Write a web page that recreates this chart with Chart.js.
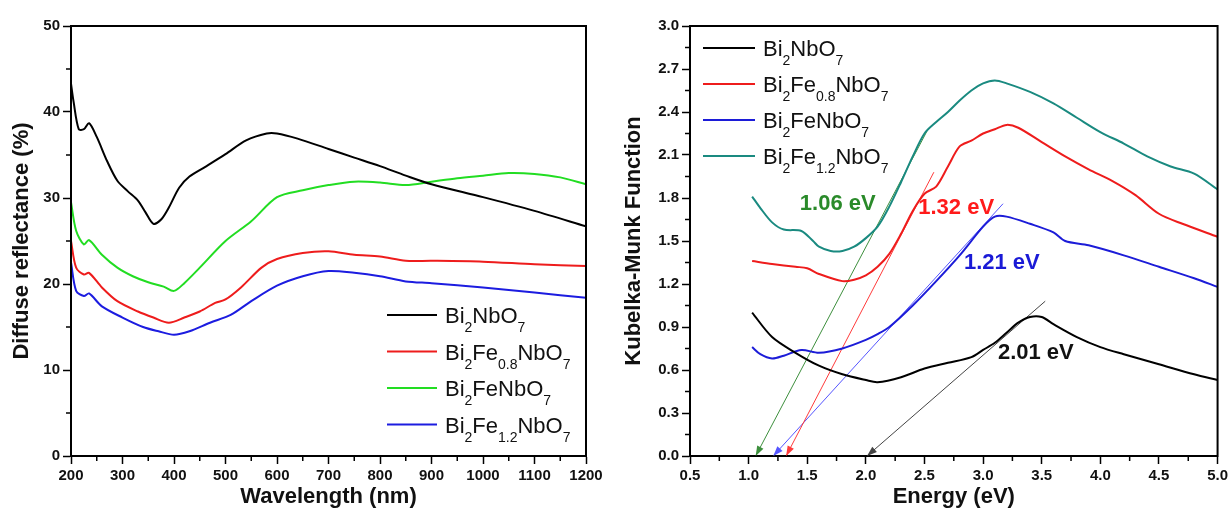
<!DOCTYPE html>
<html>
<head>
<meta charset="utf-8">
<script src="https://cdn.jsdelivr.net/npm/chart.js@4.4.1/dist/chart.umd.min.js"></script>
<style>
  body { margin: 0; background: #fff; width: 1231px; height: 512px; overflow: hidden; position: relative; }
  .panel { position: absolute; top: 0; }
</style>
</head>
<body>
<div class="panel" style="left:0"><canvas id="reflChart" width="615" height="512"></canvas></div>
<div class="panel" style="left:615px"><canvas id="kmChart" width="616" height="512"></canvas></div>
<script>
// ---- left panel: diffuse reflectance vs wavelength ----
const reflNames = ['Bi2NbO7', 'Bi2Fe0.8NbO7', 'Bi2FeNbO7', 'Bi2Fe1.2NbO7'];
const reflColors = ['#000000', '#ee1c1c', '#22dd22', '#1c1ce0'];

const wlBNO = [200, 205, 215, 225, 235, 250, 270, 290, 310, 330, 345, 360, 375, 390, 410, 430, 460, 500, 540, 580, 600, 640, 700, 750, 800, 850, 900, 1000, 1100, 1200];
const refBNO = [43.3, 41.2, 38.0, 38.0, 38.7, 37.1, 34.3, 32.0, 30.8, 29.7, 28.3, 27.0, 27.5, 28.9, 31.2, 32.5, 33.6, 35.1, 36.7, 37.5, 37.5, 36.9, 35.7, 34.7, 33.7, 32.6, 31.6, 30.1, 28.5, 26.7];

const wlFe08 = [200, 210, 225, 235, 260, 290, 330, 360, 390, 420, 450, 480, 500, 530, 570, 600, 650, 700, 750, 800, 850, 900, 1000, 1100, 1200];
const refFe08 = [25.0, 21.9, 21.1, 21.3, 19.6, 18.0, 16.8, 16.1, 15.5, 16.1, 16.8, 17.8, 18.2, 19.6, 21.9, 22.9, 23.6, 23.8, 23.4, 23.2, 22.7, 22.7, 22.6, 22.3, 22.1];

const wlFe10 = [200, 210, 225, 235, 260, 290, 320, 350, 380, 400, 420, 450, 500, 550, 600, 650, 700, 750, 800, 850, 900, 950, 1000, 1050, 1100, 1150, 1200];
const refFe10 = [29.5, 26.2, 24.6, 25.1, 23.4, 21.9, 20.9, 20.2, 19.7, 19.2, 20.1, 21.9, 25.0, 27.3, 30.1, 30.9, 31.5, 31.9, 31.8, 31.5, 31.9, 32.3, 32.6, 32.9, 32.8, 32.4, 31.6];

const wlFe12 = [200, 210, 225, 235, 260, 300, 340, 370, 400, 430, 470, 510, 550, 600, 650, 700, 750, 800, 850, 900, 1000, 1100, 1200];
const refFe12 = [22.5, 19.2, 18.6, 18.9, 17.4, 16.1, 15.0, 14.5, 14.1, 14.5, 15.5, 16.4, 18.0, 19.8, 20.9, 21.5, 21.3, 20.9, 20.3, 20.1, 19.6, 19.0, 18.4];

// ---- right panel: Kubelka-Munk function vs energy ----
const kmNames = ['Bi2NbO7', 'Bi2Fe0.8NbO7', 'Bi2FeNbO7', 'Bi2Fe1.2NbO7'];
const kmColors = ['#000000', '#ee1c1c', '#1c1cd8', '#1a8a80'];

const eBNO = [1.03, 1.2, 1.4, 1.6, 1.8, 2.0, 2.1, 2.3, 2.5, 2.7, 2.9, 3.0, 3.1, 3.2, 3.3, 3.4, 3.5, 3.6, 3.8, 4.0, 4.2, 4.5, 4.8, 5.0];
const kmBNO = [1.00, 0.83, 0.72, 0.63, 0.57, 0.53, 0.515, 0.55, 0.61, 0.65, 0.69, 0.74, 0.79, 0.86, 0.93, 0.97, 0.97, 0.92, 0.83, 0.76, 0.71, 0.64, 0.57, 0.53];

const eFe08 = [1.03, 1.2, 1.4, 1.5, 1.6, 1.8, 1.9, 2.0, 2.1, 2.2, 2.3, 2.4, 2.5, 2.6, 2.7, 2.8, 2.9, 3.0, 3.1, 3.2, 3.3, 3.5, 3.7, 3.9, 4.1, 4.3, 4.5, 4.7, 5.0];
const kmFe08 = [1.36, 1.34, 1.32, 1.31, 1.27, 1.22, 1.23, 1.26, 1.32, 1.41, 1.55, 1.71, 1.83, 1.88, 2.02, 2.16, 2.20, 2.25, 2.28, 2.31, 2.29, 2.19, 2.09, 2.00, 1.92, 1.82, 1.69, 1.62, 1.53];

const eFe10 = [1.03, 1.1, 1.2, 1.3, 1.45, 1.6, 1.8, 2.0, 2.1, 2.2, 2.4, 2.6, 2.8, 3.0, 3.1, 3.2, 3.4, 3.6, 3.7, 3.9, 4.2, 4.5, 4.8, 5.0];
const kmFe10 = [0.76, 0.71, 0.68, 0.70, 0.74, 0.72, 0.75, 0.81, 0.85, 0.90, 1.05, 1.22, 1.40, 1.60, 1.67, 1.67, 1.62, 1.56, 1.50, 1.47, 1.40, 1.32, 1.24, 1.18];

const eFe12 = [1.03, 1.1, 1.2, 1.3, 1.45, 1.55, 1.6, 1.7, 1.8, 1.9, 2.0, 2.1, 2.2, 2.3, 2.4, 2.5, 2.6, 2.7, 2.8, 2.9, 3.0, 3.1, 3.2, 3.4, 3.6, 3.8, 4.0, 4.2, 4.4, 4.6, 4.8, 5.0];
const kmFe12 = [1.81, 1.73, 1.63, 1.58, 1.57, 1.50, 1.46, 1.43, 1.43, 1.46, 1.52, 1.60, 1.74, 1.91, 2.09, 2.25, 2.33, 2.40, 2.48, 2.55, 2.60, 2.62, 2.60, 2.54, 2.46, 2.36, 2.26, 2.18, 2.09, 2.02, 1.97, 1.86];

// band-gap tangents: from a point on the edge down to the energy axis
const tangentTopE = [2.53, 2.58, 3.17, 3.53];
const tangentTopK = [2.28, 1.98, 1.76, 1.08];
const tangentEg = [1.06, 1.32, 1.21, 2.01];
const tangentColors = ['#3d8f3d', '#ff3b3b', '#5555ff', '#444444'];
const gapLabels = ['1.06 eV', '1.32 eV', '1.21 eV', '2.01 eV'];
const gapLabelE = [1.76, 2.77, 3.16, 3.45];
const gapLabelK = [1.76, 1.73, 1.35, 0.72];
const gapLabelColors = ['#2a8a2a', '#ff1a1a', '#1a1ad6', '#111111'];

const FONT = "'Liberation Sans', Arial, sans-serif";
Chart.defaults.font.family = FONT;
Chart.defaults.color = '#111';

const toXY = (xs, ys) => xs.map((x, i) => ({ x, y: ys[i] }));

// formula with numeric subscripts, e.g. Bi2Fe0.8NbO7
function drawFormula(ctx, text, x, y) {
  const parts = text.split(/(\d+(?:\.\d+)?)/);
  let cx = x;
  parts.forEach((p, i) => {
    if (!p) return;
    if (i % 2 === 1) {
      ctx.font = '14px ' + FONT;
      ctx.fillText(p, cx, y + 17);
    } else {
      ctx.font = '22px ' + FONT;
      ctx.fillText(p, cx, y + 8);
    }
    cx += ctx.measureText(p).width;
  });
}

const decorPlugin = {
  id: 'decor',
  afterDraw(chart, args, opts) {
    const { ctx, chartArea: a, scales } = chart;
    ctx.save();
    // closed frame
    ctx.strokeStyle = '#000';
    ctx.lineWidth = 2;
    ctx.strokeRect(a.left, a.top, a.right - a.left, a.bottom - a.top);
    // minor ticks
    ctx.lineWidth = 1.5;
    ctx.beginPath();
    const xs = scales.x, ys = scales.y;
    for (let v = xs.min + opts.xMinor; v < xs.max; v += 2 * opts.xMinor) {
      const px = xs.getPixelForValue(v);
      ctx.moveTo(px, a.bottom); ctx.lineTo(px, a.bottom + 5);
    }
    for (let v = ys.min + opts.yMinor; v < ys.max; v += 2 * opts.yMinor) {
      const py = ys.getPixelForValue(v);
      ctx.moveTo(a.left - 5, py); ctx.lineTo(a.left, py);
    }
    ctx.stroke();

    // legend
    const lg = opts.legend;
    lg.names.forEach((name, i) => {
      const y = lg.y + i * lg.dy;
      ctx.strokeStyle = lg.colors[i];
      ctx.lineWidth = 2;
      ctx.beginPath();
      ctx.moveTo(lg.x, y); ctx.lineTo(lg.x + lg.len, y);
      ctx.stroke();
      ctx.fillStyle = '#111';
      ctx.textBaseline = 'alphabetic';
      ctx.textAlign = 'left';
      drawFormula(ctx, name, lg.x + lg.len + 8, y);
    });

    // arrowheads and band-gap labels
    if (opts.gaps) {
      chart.data.datasets.forEach((ds, di) => {
        if (!ds.arrow) return;
        const pts = chart.getDatasetMeta(di).data;
        const p0 = pts[0], p1 = pts[1];
        const ang = Math.atan2(p1.y - p0.y, p1.x - p0.x);
        ctx.fillStyle = ds.borderColor;
        ctx.beginPath();
        ctx.moveTo(p1.x, p1.y);
        ctx.lineTo(p1.x - 10 * Math.cos(ang) + 3.5 * Math.sin(ang), p1.y - 10 * Math.sin(ang) - 3.5 * Math.cos(ang));
        ctx.lineTo(p1.x - 10 * Math.cos(ang) - 3.5 * Math.sin(ang), p1.y - 10 * Math.sin(ang) + 3.5 * Math.cos(ang));
        ctx.closePath();
        ctx.fill();
      });
      ctx.font = 'bold 22px ' + FONT;
      ctx.textAlign = 'center';
      ctx.textBaseline = 'middle';
      gapLabels.forEach((t, i) => {
        ctx.fillStyle = gapLabelColors[i];
        ctx.fillText(t, xs.getPixelForValue(gapLabelE[i]), ys.getPixelForValue(gapLabelK[i]));
      });
    }
    ctx.restore();
  }
};

function axis(min, max, step, title, titlePad, fixed, isY, size) {
  return {
    type: 'linear',
    min, max,
    ticks: {
      stepSize: step,
      color: '#111',
      padding: 3,
      font: { size: 15, weight: 'bold' },
      callback: v => fixed ? v.toFixed(1) : v
    },
    grid: { drawOnChartArea: false, tickLength: 8, tickWidth: 1.5, tickColor: '#000' },
    border: { color: '#000', width: 2 },
    title: { display: true, text: title, color: '#111', font: { size: 22, weight: 'bold' }, padding: titlePad },
    afterFit(scale) { if (isY) scale.width = size; else scale.height = size; }
  };
}

const line = (label, data, color) => ({
  label, data, borderColor: color, borderWidth: 2, pointRadius: 0, tension: 0.3, fill: false
});

new Chart(document.getElementById('reflChart'), {
  type: 'line',
  data: {
    datasets: [
      line(reflNames[0], toXY(wlBNO, refBNO), reflColors[0]),
      line(reflNames[1], toXY(wlFe08, refFe08), reflColors[1]),
      line(reflNames[2], toXY(wlFe10, refFe10), reflColors[2]),
      line(reflNames[3], toXY(wlFe12, refFe12), reflColors[3])
    ]
  },
  options: {
    responsive: false,
    animation: false,
    devicePixelRatio: 1,
    layout: { padding: { left: 0, right: 29, top: 26, bottom: 0 } },
    plugins: {
      legend: { display: false },
      tooltip: { enabled: false },
      decor: {
        xMinor: 50, yMinor: 5,
        legend: { names: reflNames, colors: reflColors, x: 387, y: 315, dy: 36.5, len: 50 }
      }
    },
    scales: {
      x: axis(200, 1200, 100, 'Wavelength (nm)', { bottom: 2, top: 0 }, false, false, 56),
      y: axis(0, 50, 10, 'Diffuse reflectance (%)', { top: 9, bottom: 0 }, false, true, 71)
    }
  },
  plugins: [decorPlugin]
});

const kmSets = [
  line(kmNames[0], toXY(eBNO, kmBNO), kmColors[0]),
  line(kmNames[1], toXY(eFe08, kmFe08), kmColors[1]),
  line(kmNames[2], toXY(eFe10, kmFe10), kmColors[2]),
  line(kmNames[3], toXY(eFe12, kmFe12), kmColors[3])
];
tangentEg.forEach((eg, i) => {
  kmSets.push({
    label: gapLabels[i],
    data: [{ x: tangentTopE[i], y: tangentTopK[i] }, { x: eg, y: 0 }],
    borderColor: tangentColors[i], borderWidth: 1, pointRadius: 0, tension: 0, arrow: true
  });
});

new Chart(document.getElementById('kmChart'), {
  type: 'line',
  data: { datasets: kmSets },
  options: {
    responsive: false,
    animation: false,
    devicePixelRatio: 1,
    layout: { padding: { left: 0, right: 12, top: 26, bottom: 0 } },
    plugins: {
      legend: { display: false },
      tooltip: { enabled: false },
      decor: {
        xMinor: 0.25, yMinor: 0.15, gaps: true,
        legend: { names: kmNames, colors: kmColors, x: 88, y: 48, dy: 36, len: 52 }
      }
    },
    scales: {
      x: axis(0.5, 5.0, 0.5, 'Energy (eV)', { bottom: 2, top: 0 }, true, false, 56),
      y: axis(0, 3.0, 0.3, 'Kubelka-Munk Function', { top: 6, bottom: 0 }, true, true, 75)
    }
  },
  plugins: [decorPlugin]
});
</script>
</body>
</html>
